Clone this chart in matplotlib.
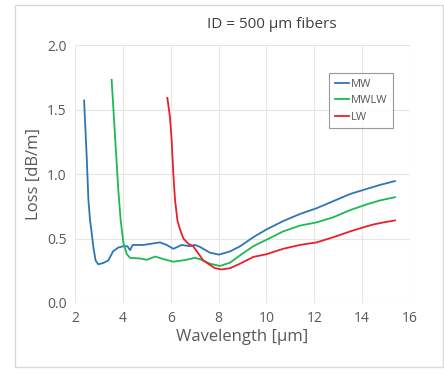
import matplotlib
matplotlib.use("Agg")
import matplotlib.pyplot as plt
from matplotlib.patches import Rectangle

mw_x = [2.38, 2.43, 2.49, 2.56, 2.63, 2.70, 2.77, 2.86, 2.97, 3.18, 3.39, 3.59, 3.81, 4.02, 4.19, 4.3, 4.41, 4.86,
        5.55, 5.83, 6.11, 6.46, 6.8, 7.01, 7.22, 7.64, 8.02, 8.48, 8.9, 9.45, 10.0, 10.7, 11.4, 12.1,
        12.8, 13.5, 14.2, 14.74, 15.37]
mw_y = [1.57, 1.37, 1.13, 0.80, 0.64, 0.54, 0.43, 0.33, 0.30, 0.31, 0.33, 0.40, 0.43, 0.44, 0.44, 0.41, 0.45, 0.45,
        0.47, 0.45, 0.42, 0.45, 0.44, 0.45, 0.435, 0.39, 0.375, 0.40, 0.44, 0.51, 0.57, 0.635, 0.69, 0.735,
        0.79, 0.845, 0.885, 0.915, 0.945]

mwlw_x = [3.53, 3.6, 3.71, 3.81, 3.91, 4.02, 4.16, 4.3, 4.72, 5.0, 5.35, 5.7, 6.11, 6.66, 7.01, 7.22,
          7.64, 8.06, 8.48, 8.9, 9.45, 10.0, 10.7, 11.4, 12.1, 12.8, 13.5, 14.2, 14.74, 15.37]
mwlw_y = [1.73, 1.52, 1.18, 0.875, 0.64, 0.47, 0.38, 0.35, 0.345, 0.335, 0.36, 0.34, 0.32, 0.335, 0.35, 0.34,
          0.305, 0.287, 0.313, 0.37, 0.44, 0.49, 0.555, 0.60, 0.625, 0.665, 0.72, 0.765, 0.795, 0.82]

lw_x = [5.86, 5.97, 6.04, 6.11, 6.18, 6.28, 6.39, 6.53, 6.73, 6.94, 7.15, 7.36, 7.64, 7.85, 8.13, 8.48, 8.9, 9.45,
        10.0, 10.7, 11.4, 12.1, 12.8, 13.5, 14.2, 14.5, 14.9, 15.37]
lw_y = [1.59, 1.44, 1.26, 1.00, 0.80, 0.64, 0.57, 0.50, 0.46, 0.44, 0.385, 0.33, 0.295, 0.27, 0.26, 0.27, 0.305, 0.357,
        0.378, 0.42, 0.45, 0.47, 0.51, 0.555, 0.595, 0.61, 0.625, 0.64]

x_ticks = [2, 4, 6, 8, 10, 12, 14, 16]
y_ticks = [0.0, 0.5, 1.0, 1.5, 2.0]

plt.rcParams['font.family'] = ['Open Sans', 'DejaVu Sans']
txt = '#595959'

fig = plt.figure(figsize=(4.44, 3.75), dpi=100)
fig.patches.append(Rectangle((15/444, 1-367/375), (443-15)/444, (367-5)/375, transform=fig.transFigure,
                             fill=False, edgecolor='#d9d9d9', linewidth=1.0))
ax = fig.add_axes([75/444, 1-303/375, 335/444, 258/375])

ax.plot(mw_x, mw_y, color='#2E75B6', lw=1.3, label='MW')
ax.plot(mwlw_x, mwlw_y, color='#1DB954', lw=1.3, label='MWLW')
ax.plot(lw_x, lw_y, color='#E8202A', lw=1.3, label='LW')

ax.set_xlim(2, 16)
ax.set_ylim(0, 2.0)
ax.set_xticks(x_ticks)
ax.set_yticks(y_ticks)
ax.set_yticklabels([f'{v:.1f}' for v in y_ticks])
ax.grid(True, color='#e6e6e6', lw=0.8)
ax.set_axisbelow(True)
for s in ax.spines.values():
    s.set_visible(False)
ax.tick_params(length=0, colors=txt, labelsize=10, pad=6)
ax.set_xlabel('Wavelength [µm]', color=txt, fontsize=12, labelpad=2)
ax.set_ylabel('Loss [dB/m]', color=txt, fontsize=12, labelpad=4)

fig.text(272/444, 1-24/375, 'ID = 500 µm fibers', ha='center', va='center', fontsize=11, color='#404040')

leg = ax.legend(loc='upper left', bbox_to_anchor=((329-75)/335, 1-(73-45)/258), fontsize=8,
                frameon=True, fancybox=False, handlelength=1.3, handletextpad=0.2,
                borderpad=0.5, labelspacing=0.5, borderaxespad=0)
leg.get_frame().set_edgecolor('#808080')
leg.get_frame().set_linewidth(0.8)
for t in leg.get_texts():
    t.set_color(txt)

fig.savefig('out.png', dpi=100)
